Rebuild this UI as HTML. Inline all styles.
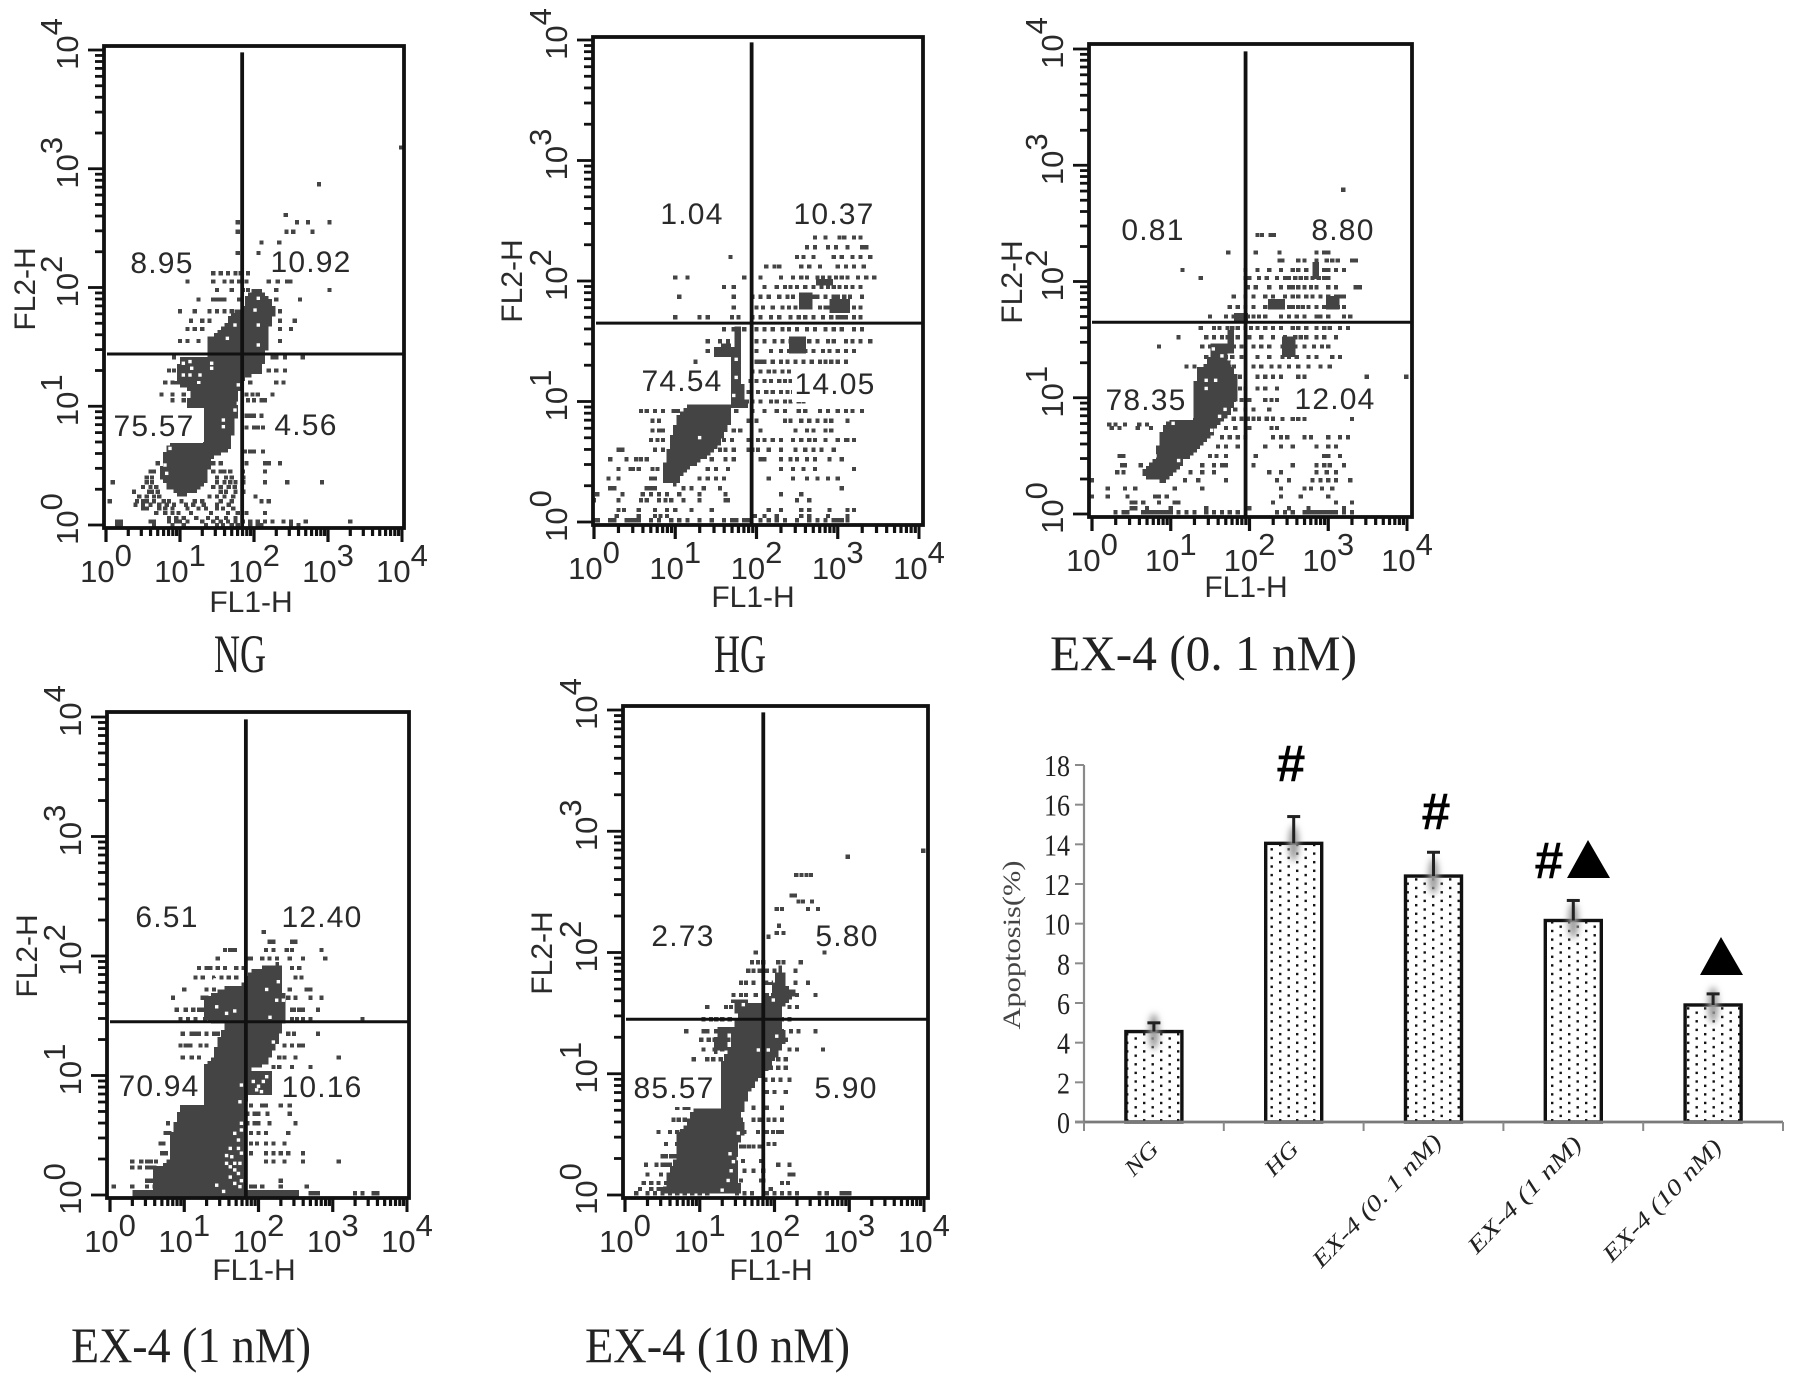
<!DOCTYPE html>
<html lang="en">
<head>
<meta charset="utf-8">
<title>Flow cytometry apoptosis panels</title>
<style>
html,body{margin:0;padding:0;background:#fff;}
svg{display:block;}
.sans{font-family:"Liberation Sans",Arial,sans-serif;fill:#2a2a2a;}
.serif{font-family:"Liberation Serif","Noto Serif CJK SC",serif;fill:#222;}
</style>
</head>
<body>
<svg id="figure" xmlns="http://www.w3.org/2000/svg" width="1795" height="1380" viewBox="0 0 1795 1380">
  <defs>
    <pattern id="dotFill" width="17" height="8.6" patternUnits="userSpaceOnUse">
      <rect x="4" y="1" width="2.4" height="2.4" fill="#111"/>
      <rect x="12.5" y="5.3" width="2.4" height="2.4" fill="#111"/>
    </pattern>
    <filter id="glow" x="-150%" y="-100%" width="400%" height="300%"><feGaussianBlur stdDeviation="3.5"/></filter>
  </defs>
  <rect width="1795" height="1380" fill="#fff"/>
  <g id="panels"></g>
  <g id="bars"></g>
  <text class="serif" x="214" y="672" font-size="54" textLength="52" lengthAdjust="spacingAndGlyphs">NG</text>
  <text class="serif" x="714" y="672" font-size="54" textLength="52" lengthAdjust="spacingAndGlyphs">HG</text>
  <text class="serif" x="1050" y="670" font-size="50" textLength="307" lengthAdjust="spacingAndGlyphs">EX-4 (0. 1 nM)</text>
  <text class="serif" x="71" y="1362" font-size="50" textLength="240" lengthAdjust="spacingAndGlyphs">EX-4 (1 nM)</text>
  <text class="serif" x="585" y="1362" font-size="50" textLength="265" lengthAdjust="spacingAndGlyphs">EX-4 (10 nM)</text>
</svg>
<script>
/* ---------- Flow cytometry data: log10 decades of FL1-H (x) and FL2-H (y) ---------- */
const decadeLabels = ['0','1','2','3','4'];

/* NG */
const ngGate = [1.84, 1.44];
const ngQuadrants = ['8.95','10.92','75.57','4.56'];
const ngBlobs = [
 [[.775,.604],[.865,.688],[1.315,.694],[1.315,.983],[1.09,.996],[1.135,1.137],[1.36,1.249],[1.36,1.558],[1.63,1.698],[1.70,1.783],[1.856,1.839],[1.88,1.937],[2.036,1.993],[2.17,1.937],[2.306,1.825],[2.216,1.67],[2.17,1.446],[2.08,1.277],[1.90,1.249],[1.81,1.165],[1.79,.996],[1.72,.772],[1.68,.632],[1.405,.547],[1.38,.379],[1.27,.295],[1.0,.225],[.82,.323],[.73,.407]],
 [[1.0,1.417],[1.405,1.417],[1.405,1.28],[1.135,1.137],[.93,1.193]]
];
const ngDotY = [3.18,2.87,2.61,2.55,2.47,2.38,2.29,2.12,2.05,1.98,1.9,1.8,1.72,1.65,1.55,1.41,1.3,1.2,1.1,1.05,.92,.82,.62,.52,.45,.4,.36,.32,.28,.24,.2,.17,.14,.1,.06,.03,.0];
const ngDotX = [
 [3.99],[2.88],[2.43],[1.78,2.58,2.73,3.02],[1.78,2.44,2.53,2.79],[2.1,2.34],[1.78,2.06],
 [1.45,1.55,1.65,1.75,1.82,1.92],[1.1,1.45,1.6,1.7,1.8,1.9,2.2,2.32,2.45,2.49],[1.5,1.7,1.85,1.92,2.3,3.02],
 [1.25,1.45,1.5,1.55,1.6,1.8,2.3,2.62],[1.0,1.2,1.4,1.5,1.6,1.7,2.35],[1.15,1.3,1.4,2.35,2.55],[1.1,1.2,1.3,2.35,2.5],
 [1.0,1.1,1.25,2.35],[.92,2.25,2.3,2.42,2.66],[.85,.92,2.2,2.3,2.42],[.8,.9,1.95,2.3,2.4],[.75,.9,1.05,1.9,1.98,2.05,2.25],
 [.9,1.05,1.92,2.0,2.1,2.15],[1.9,1.95,2.0,2.1],[1.9,2.0,2.05,2.12],[1.88,1.95,2.0,2.12],[.7,1.45,1.55,1.9,2.15,2.2,2.35],
 [.6,.65,1.45,1.55,1.6,1.68,1.85,2.15],[.55,.62,1.5,1.62,1.7,1.86],[.09,.55,.62,1.5,1.6,1.68,1.75,1.86,2.15,2.45,2.92],[.5,.6,.68,1.45,1.55,1.66,1.74],[.38,.58,.62,.7,1.55,1.62,1.75,1.86],
 [.45,.55,.65,.72,1.4,1.5,1.6,1.72,2.02],[.05,.42,.5,.55,.65,.78,.85,1.02,1.2,1.3,1.55,1.7,2.1,2.2],[.4,.5,.6,.72,.82,.92,1.08,1.18,1.32,1.5,1.66],
 [.5,.55,.72,.8,.9,1.1,1.25,1.35,1.5,1.58,1.72],[.68,.8,.9,.98,1.15,1.42,1.65,1.78,1.9,2.15],[.85,.95,1.05,1.22,1.38,1.5,1.62,1.75],
 [.15,.2,.6,.65,.85,.95,1.0,1.1,1.3,1.45,1.55,1.65,1.75,1.85,1.95,2.05,2.15,2.25,2.4,2.5,2.7,3.3],[.15,.2,.65,.9,1.05,1.35,1.5,1.58,1.7,1.78,1.95,2.05,2.1,2.5,2.6]
];
const ngHoles = [[1.586,.884],[1.586,.828],[1.428,1.362],[1.428,1.32],[1.045,1.362],[1.135,1.376],[1.158,1.32],[1.045,1.263],[1.135,1.263],[1.27,1.263],[1.788,1.18],[1.788,1.025],[1.743,.968],[.82,.435],[.797,.505],[1.64,1.572],[1.743,1.684],[2.058,1.909],[2.014,1.81],[2.058,1.684],[2.058,1.516],[.865,.645]];

/* HG */
const hgGate = [1.94, 1.65];
const hgQuadrants = ['1.04','10.37','74.54','14.05'];
const hgBlobs = [
 [[.83,.38],[.89,.54],[.95,.72],[1.05,.9],[1.18,.98],[1.67,.98],[1.71,.88],[1.55,.65],[1.38,.54],[1.14,.43],[1.01,.31],[.87,.32]],
 [[1.69,.94],[1.69,1.37],[1.75,1.62],[1.83,1.62],[1.83,1.16],[1.89,.94]],
 [[1.46,1.37],[1.69,1.37],[1.69,1.48],[1.48,1.46]],
 [[2.88,1.84],[3.16,1.84],[3.16,1.73],[2.88,1.73]],
 [[2.39,1.53],[2.59,1.53],[2.59,1.39],[2.39,1.39]],
 [[2.53,1.91],[2.69,1.91],[2.69,1.77],[2.53,1.77]],
 [[2.73,2.03],[2.95,2.03],[2.95,1.95],[2.73,1.95]]
];
const hgDotY = [2.36,2.28,2.2,2.12,2.03,1.95,1.87,1.78,1.7,1.6,1.5,1.42,1.33,1.25,1.17,1.08,1.0,.92,.84,.76,.68,.6,.52,.44,.36,.28,.23,.18,.1,.05,.015];
const hgDotX = [
 [2.72,2.85,3.02,3.08,3.2,3.28],[2.62,2.72,2.88,2.98,3.12,3.3,3.35],[1.68,2.5,2.58,2.7,2.95,3.05,3.18,3.28,3.4],
 [2.12,2.22,2.28,2.55,2.65,2.78,3.0,3.1,3.2,3.32],[1.0,1.15,1.85,2.05,2.3,2.45,2.55,2.62,2.75,2.82,2.9,2.98,3.05,3.12,3.25,3.35,3.45],
 [1.6,1.72,2.1,2.25,2.35,2.42,2.5,2.6,2.7,2.8,2.88,2.95,3.02,3.1,3.18,3.28],[1.05,1.72,1.95,2.05,2.15,2.28,2.38,2.45,2.55,2.62,2.7,2.75,2.85,2.95,3.0,3.08,3.15,3.3],
 [1.72,2.0,2.08,2.2,2.32,2.4,2.48,2.58,2.65,2.78,2.85,2.9,2.98,3.02,3.1,3.2,3.28],[1.0,1.3,1.4,1.7,1.78,1.95,2.05,2.18,2.28,2.42,2.52,2.6,2.7,2.82,2.92,3.0,3.05,3.1,3.2,3.28],
 [1.6,1.72,1.85,2.0,2.1,2.2,2.32,2.4,2.5,2.62,2.72,2.85,2.95,3.05,3.2,3.3],[1.4,1.55,1.65,2.0,2.1,2.22,2.32,2.42,2.5,2.58,2.65,2.75,2.88,2.95,3.1,3.18,3.28,3.4],
 [1.4,1.5,1.6,2.0,2.18,2.3,2.4,2.45,2.52,2.6,2.7,2.82,2.9,3.0,3.1,3.2],[1.25,2.0,2.05,2.1,2.2,2.3,2.38,2.48,2.58,2.68,2.78,2.85,2.92,3.0,3.1],
 [1.95,2.05,2.15,2.22,2.32,2.4,2.5],[1.93,2.0,2.1,2.18,2.28,2.35,2.42,2.5,2.58],[1.9,2.02,2.12,2.2,2.3,2.38,2.45,2.5,2.55],
 [1.88,1.95,2.05,2.18,2.25,2.35,2.42,2.52,2.58],[.65,.75,.85,.58,.98,1.03,1.75,1.95,2.1,2.25,2.35,2.52,2.6,2.78,2.88,3.0,3.1,3.18,3.3],
 [.72,.8,1.9,1.92,2.0,2.35,2.42,2.55,2.65,2.75,2.85,2.92,3.12],[.72,.8,.85,1.72,1.8,2.05,2.48,2.62,2.7,2.85,2.92],
 [.7,.78,.85,1.6,1.7,1.9,2.02,2.1,2.2,2.3,2.45,2.55,2.65,2.72,2.85,3.0,3.1,3.12,3.2],[.3,.35,.75,.85,1.55,1.62,1.72,1.9,1.95,2.02,2.15,2.3,2.48,2.6,2.7,2.8,2.95],
 [.2,.4,.52,.58,.65,1.45,1.62,1.72,2.05,2.1,2.3,2.42,2.5,2.62,2.72,2.9,3.05],[.3,.45,.48,.55,.72,.78,1.4,1.5,1.65,2.3,2.45,2.58,2.72,3.2],
 [.18,.3,.7,.75,1.3,1.4,1.5,1.6,2.15,2.45,2.62,2.75,2.88,3.0],[.2,.25,.65,.7,.75,1.1,1.2,1.35,1.55,3.05],[.04,.35,.6,.7,.8,.9,1.05,1.3,1.62,2.3,2.55],
 [.0,.3,.58,.65,.8,.88,.95,1.1,1.3,1.62,1.65,2.5,2.65],[.3,.37,.55,.75,.9,1.0,1.2,1.45,2.15,2.3,2.55,2.65,2.9,3.12,3.2],[.28,.55,.75,.82,.9,1.98,2.1,2.25,2.55,2.65,2.88,3.12],
 [0,.02,.05,.2,.25,.4,.45,.5,.55,.7,.8,.95,1.05,1.15,1.3,1.45,1.6,1.7,1.75,1.85,1.9,2.05,2.15,2.25,2.35,2.5,2.65,2.75,2.85,2.95,3.0,3.05,3.12]
];
const hgHoles = [[1.75,1.2],[1.75,1.35],[1.72,1.05],[1.3,.7]];

/* EX-4 0.1 nM */
const ex01Gate = [1.95, 1.65];
const ex01Quadrants = ['0.81','8.80','78.35','12.04'];
const ex01Blobs = [
 [[.631,.35],[.8,.493],[.863,.694],[.99,.823],[1.266,.837],[1.287,1.067],[1.35,1.267],[1.477,1.296],[1.498,1.482],[1.689,1.482],[1.752,1.296],[1.837,1.181],[1.837,.981],[1.752,.866],[1.604,.751],[1.393,.579],[1.181,.465],[1.012,.321],[.927,.278],[.715,.292]],
 [[2.25,1.84],[2.44,1.84],[2.44,1.76],[2.25,1.76]],
 [[2.99,1.88],[3.16,1.88],[3.16,1.76],[2.99,1.76]],
 [[2.42,1.54],[2.6,1.54],[2.6,1.35],[2.42,1.35]],
 [[2.78,2.18],[2.9,2.18],[2.9,2.03],[2.78,2.03]],
 [[1.8,1.73],[1.97,1.73],[1.97,1.63],[1.8,1.63]],
 [[1.72,1.58],[1.8,1.58],[1.8,1.39],[1.72,1.39]]
];
const ex01DotY = [2.79,2.4,2.25,2.18,2.1,2.03,1.95,1.87,1.78,1.7,1.6,1.52,1.44,1.35,1.27,1.18,1.08,.98,.9,.82,.77,.74,.66,.58,.5,.42,.36,.29,.22,.15,.1,.05,.015];
const ex01DotX = [
 [3.19],[2.1,2.16,2.27,2.31],[1.73,2.08,2.38,2.85,2.95,3.0],[2.38,2.42,2.62,2.7,2.85,2.98,3.05,3.12,3.3,3.35],[1.15,1.95,2.1,2.25,2.4,2.55,2.62,2.72,2.85,2.95,3.0,3.1,3.2],
 [1.38,1.95,2.0,2.12,2.22,2.35,2.45,2.5,2.58,2.65,2.72,2.8,2.88,2.95,3.0],[1.98,2.08,2.25,2.4,2.5,2.55,2.62,2.7,2.78,2.85,3.0,3.1,3.35,3.4],[1.8,1.95,2.05,2.2,2.3,2.45,2.55,2.62,2.72,2.8,2.9,3,3.1,3.15,3.2],
 [1.75,1.85,1.95,2.05,2.2,2.3,2.35,2.42,2.5,2.55,2.62,2.68,2.75,2.85,2.95,3,3.05,3.12,3.2],[1.5,1.7,1.8,1.88,1.98,2.05,2.12,2.2,2.4,2.5,2.6,2.7,2.85,2.9,3,3.2,3.28],
 [1.38,1.55,1.62,1.72,1.78,1.85,1.95,2.02,2.1,2.2,2.3,2.4,2.55,2.62,2.72,2.85,2.95,3.02,3.15,3.25],[1.1,1.45,1.55,1.65,1.72,1.85,2.0,2.15,2.3,2.45,2.58,2.65,2.72,2.85,2.95,3.1],
 [.85,1.4,1.5,1.65,1.8,1.9,2.05,2.15,2.25,2.42,2.5,2.58,2.7,2.82,2.92,3.0],[1.45,1.7,1.78,1.9,2.1,2.25,2.42,2.5,2.6,2.75,2.85,3.05,3.15],[1.2,1.3,1.8,2.05,2.15,2.28,2.38,2.5,2.62,2.75,2.9,3.02],
 [1.78,1.88,2.1,2.2,2.3,2.4,2.62,2.7,3.49,3.99],[1.8,1.88,1.95,2.1,2.2,2.35],[1.8,1.9,2.0,2.2,2.28,2.35],[1.82,1.95,2.05,2.25],[1.8,1.9,1.98,2.05,2.12,2.22,2.3,2.42,2.55,2.62,2.7,3.3],[.22,.3,.42,.6,.7],
 [.25,.35,.58,.75,1.7,1.82,2.0,2.28,2.35],[1.65,1.75,1.85,1.95,2.3,2.4,2.48,2.7,2.78,3,3.15,3.25],[1.6,1.7,1.85,2.2,2.4,2.55,2.85,3.0,3.1],[.35,.4,1.5,1.58,1.7,2.08,2.95,3.0,3.15],
 [.38,.42,.62,1.4,1.55,1.65,1.7,2.05,2.55,2.85,2.95,3.02,3.2],[.32,.4,1.25,1.4,1.55,2.25,2.4,2.85,2.98,3.1],[.0,1.18,1.35,1.7,2.35,2.5,2.8,2.9,3.0,3.1,3.28],[.2,.42,.55,1.05,1.4,2.4,2.7,2.78,2.92,3.05],
 [0,.2,.45,.8,.85,.95,2.4,2.65,3.0],[.5,.55,.65,.85,1.05,1.1,2.3,3.1,3.3],[.5,.55,.7,1.0,1.45,2.0,2.5,2.75,3.2],
 [.3,.4,.45,.65,.7,.75,.8,.85,.9,.95,1.0,1.1,1.2,1.3,1.45,1.55,1.65,1.75,1.85,2.35,2.45,2.55,2.7,2.75,2.8,2.85,2.9,2.95,3.0,3.05,3.1,3.2,3.3]
];
const ex01Holes = [[1.45,1.15],[1.57,1.15],[1.45,1.08],[1.69,.9],[1.62,.84],[1.52,.72],[1.03,.78],[.8,.5],[1.1,.46],[1.54,1.42],[1.65,1.36],[1.78,1.3]];

/* EX-4 1 nM */
const ex1Gate = [1.83, 1.45];
const ex1Quadrants = ['6.51','12.40','70.94','10.16'];
const ex1Blobs = [
 [[.584,0],[.584,.195],[.83,.32],[.81,.488],[.92,.684],[.988,.762],[1.248,.762],[1.248,1.088],[1.414,1.172],[1.437,1.269],[1.549,1.423],[1.257,1.464],[1.28,1.66],[1.549,1.743],[1.773,1.757],[1.886,1.869],[2.11,1.925],[2.29,1.939],[2.335,1.743],[2.37,1.492],[2.29,1.325],[2.2,1.213],[2.11,1.102],[1.886,1.046],[2.177,1.046],[2.177,.851],[1.863,.851],[1.818,.739],[1.796,.572],[1.82,0]],
 [[.31,-.02],[2.56,-.02],[2.56,.03],[.31,.03]]
];
const ex1DotY = [2.2,2.12,2.05,1.98,1.9,1.82,1.72,1.65,1.55,1.47,1.35,1.25,1.15,1.07,.96,.75,.68,.6,.52,.43,.35,.28,.23,.12,.07,.015];
const ex1DotX = [
 [2.07],[2.15,2.2,2.45,2.5],[1.55,1.62,1.68,2.1,2.2,2.38,2.45,2.85],[1.45,1.85,1.9,2.05,2.15,2.25,2.42,2.6,2.9],[1.2,1.3,1.35,1.45,1.55,1.7,1.8,2.45,2.55],[1.15,1.25,1.4,1.5,1.6,1.7,2.5,2.58],
 [1.0,1.3,1.4,1.6,1.65,2.42,2.65,2.7],[.85,1.25,1.3,2.4,2.5,2.7,2.85],[.9,1.02,1.12,1.2,1.25,2.45,2.48,2.55,2.6,2.8],[.95,1.05,1.15,1.28,1.35,1.42,2.45,2.52,2.6,2.7,3.4],
 [.98,1.1,1.15,1.2,1.3,1.4,1.45,2.4,2.48,2.8],[.95,1.02,1.08,1.22,1.3,2.35,2.45,2.55,2.6],[.98,1.1,1.2,2.28,2.35,2.5,3.08],[.98,1.1,2.2,2.28,2.45,2.7],[1.85,1.95,2.05,2.15],
 [1.9,2.05,2.1,2.3,2.42],[1.85,1.95,2.0,2.12,2.42],[.78,1.85,1.95,2.0,2.15,2.5],[.75,.8,1.9,2.0,2.1,2.4],[.68,.72,1.9,1.98,2.1,2.2,2.35],[.7,.75,1.9,2.1,2.2,2.3,2.4,2.6],
 [.5,.55,.62,.3,.42,2.1,2.2,2.35,2.6,3.08],[.3,.4,.5,.55,.6],[.5,.55,.6,2.3],[.05,.3,.5,.6,1.9,1.95,2.05,2.3,2.65],
 [2.7,2.75,2.8,3.3,3.4,3.55,3.6]
];
const ex1Holes = [[1.68,.516],[1.77,.544],[1.62,.39],[1.73,.39],[1.57,.265],[1.68,.265],[1.64,.32],[1.75,.265],[1.73,.18],[1.68,.097],[1.75,.07],[1.53,.03],[1.62,.236],[1.77,.35],[1.77,.12],[1.68,.21],[1.73,.46],[1.93,.95],[2.065,.95],[2.0,.91],[2.11,.99],[1.975,.88],[2.04,.865],[1.414,1.8],[1.48,1.757],[1.437,1.84],[2.267,1.785],[2.11,1.72],[2.245,1.63],[2.335,1.63],[1.437,1.575],[1.57,1.52],[1.68,1.54],[2.155,1.487],[2.2,1.28],[1.77,.92],[1.75,.78],[1.437,.082],[1.77,.6],[1.62,.15],[1.57,.33]];

/* EX-4 10 nM */
const ex10Gate = [1.85, 1.45];
const ex10Quadrants = ['2.73','5.80','85.57','5.90'];
const ex10Blobs = [
 [[.513,0],[.557,.165],[.669,.289],[.713,.509],[.847,.619],[.87,.687],[1.026,.728],[1.271,.728],[1.271,1.086],[1.405,1.223],[1.427,1.361],[1.516,1.47],[1.405,1.622],[1.783,1.581],[1.94,1.649],[2.03,1.842],[2.096,1.897],[2.163,1.718],[2.297,1.691],[2.274,1.635],[2.096,1.553],[2.096,1.47],[2.14,1.278],[2.03,1.141],[1.94,1.058],[1.829,.976],[1.672,.866],[1.561,.646],[1.605,.509],[1.494,.398],[1.494,.151],[1.583,0]],
 [[1.181,1.169],[1.36,1.196],[1.405,1.388],[1.227,1.375]]
];
const ex10DotY = [2.84,2.79,2.64,2.47,2.42,2.36,2.22,2.16,2.13,2.0,1.92,1.85,1.75,1.65,1.55,1.45,1.35,1.28,1.2,1.12,1.05,.95,.85,.72,.62,.52,.42,.4,.32,.28,.25,.2,.17,.12,.1,.05,.015];
const ex10DotX = [
 [3.99],[2.98],[2.29,2.36,2.43,2.49],[2.23,2.27],[2.32,2.38,2.5],[2.03,2.1,2.45,2.58],[2.06],[2.03,2.12],[1.92],[1.75,2.67],[1.7,1.78,1.85,2.05,2.12,2.35],[1.65,1.72,1.8,1.9,2.0,2.28],
 [1.55,1.62,1.72,1.9,1.95,2.28,2.45],[1.45,1.55,1.62,1.75,1.9,1.98,2.3,2.55],[1.1,1.35,1.42,1.6,1.7,1.78,2.2,2.3],[1.05,1.15,1.22,1.3,1.4,2.1,2.2],[.82,1.05,1.1,1.22,1.32,1.4,2.1,2.22,2.32,2.55],
 [1.02,1.12,1.2,1.28,1.38,2.15],[1.05,1.2,1.3,1.4,2.2,2.3,2.65],[.92,1.1,1.18,1.28,2.05,2.15],[1.85,1.95,2.05,2.15],[1.88,1.98,2.08,2.2],[1.9,2.0,2.15],[.7,.8,.85,1.72,1.9,2.1],[.65,.72,.8,1.55,1.72,1.8,1.92,2.0,2.1],
 [.45,.6,.7,1.6,1.78,1.9,1.98,2.05,2.1],[.55,.7,.72,1.92,2.0],[1.55,1.6,1.66,1.72,1.8],[.5,.55,.62,.68],[1.58,1.82],[.28,.42,.5,.55,.6,2.05,2.2],[1.6,1.72,1.85],[.3,.48,.58,2.2,2.25],[1.55,1.82,1.85],[.25,.35,.45,.55,2.1,2.18],[.2,.35,.45,.5,1.95],
 [.15,.3,.4,.5,.6,.7,.8,.9,1.0,1.1,1.5,1.6,1.7,1.9,2.0,2.1,2.2,2.3,2.6,2.7,2.9,2.95,3.0]
];
const ex10Holes = [[1.784,1.196],[1.917,1.196],[2.03,1.31],[1.984,1.608],[1.784,.88],[1.695,.84],[1.74,.77],[1.605,.63],[1.516,.51],[1.405,.34],[1.516,.3],[1.45,.275],[1.806,1.69],[1.917,1.703],[1.94,1.77],[1.583,1.57],[1.42,.2],[1.38,.12],[1.3,.04]];

/* ---------- Bar chart data ---------- */
const barCategories = ['NG','HG','EX-4 (0. 1 nM)','EX-4 (1 nM)','EX-4 (10 nM)'];
const barValues = [4.56, 14.05, 12.40, 10.16, 5.90];
const barErrorTops = [5.0, 15.4, 13.6, 11.17, 6.46];
const barTicks = [0,2,4,6,8,10,12,14,16,18];
const barTickLabels = ['0','2','4','6','8','10','12','14','16','18'];
const barAxisTitle = 'Apoptosis(%)';

/* ---------- Drawing ---------- */
const NS = 'http://www.w3.org/2000/svg';
function make(tag, attrs, parent){
  const el = document.createElementNS(NS, tag);
  for (const k in attrs) el.setAttribute(k, attrs[k]);
  parent.appendChild(el);
  return el;
}
function insidePoly(px, py, poly){
  let hit = false;
  for (let i = 0, j = poly.length - 1; i < poly.length; j = i++) {
    const a = poly[i], b = poly[j];
    if ((a[1] > py) !== (b[1] > py) && px < (b[0] - a[0]) * (py - a[1]) / (b[1] - a[1]) + a[0]) hit = !hit;
  }
  return hit;
}
const CELL = 3.4;
function staircasePath(pixPoly){
  const xs = pixPoly.map(c => c[0]), ys = pixPoly.map(c => c[1]);
  const x0 = Math.floor(Math.min.apply(null, xs) / CELL) * CELL, x1 = Math.max.apply(null, xs);
  const y0 = Math.floor(Math.min.apply(null, ys) / CELL) * CELL, y1 = Math.max.apply(null, ys);
  let d = '';
  for (let y = y0; y < y1; y += CELL) {
    let start = null;
    for (let x = x0; x <= x1 + CELL; x += CELL) {
      const on = insidePoly(x + CELL / 2, y + CELL / 2, pixPoly);
      if (on && start === null) start = x;
      if (!on && start !== null) {
        d += 'M' + start.toFixed(1) + ' ' + y.toFixed(1) + 'H' + x.toFixed(1) + 'V' + (y + CELL + 0.1).toFixed(1) + 'H' + start.toFixed(1) + 'Z';
        start = null;
      }
    }
  }
  return d;
}
const panelLayouts = [
 {name:'ng', L:104,R:404,T:46,B:528, x0:106,x4:402,y0:525,y4:50, gate:ngGate, q:ngQuadrants, blobs:ngBlobs, dy:ngDotY, dx:ngDotX, holes:ngHoles,
  qpos:[[162,262],[311,261],[154,425],[306,424]], boxes:[[113,409,90,34]], fl1:[251,602], fl2:[25,289]},
 {name:'hg', L:593,R:923,T:37,B:525, x0:594,x4:919,y0:522,y4:40, gate:hgGate, q:hgQuadrants, blobs:hgBlobs, dy:hgDotY, dx:hgDotX, holes:hgHoles,
  qpos:[[692,213],[834,213],[682,380],[835,383]], boxes:[[643,365,87,38],[792,368,86,34]], fl1:[753,597], fl2:[512,281]},
 {name:'ex4-0-1', L:1089,R:1412,T:44,B:517, x0:1092,x4:1407,y0:514,y4:49, gate:ex01Gate, q:ex01Quadrants, blobs:ex01Blobs, dy:ex01DotY, dx:ex01DotX, holes:ex01Holes,
  qpos:[[1153,229],[1343,229],[1146,399],[1335,398]], boxes:[[1107,383,86,37],[1280,383,93,34]], fl1:[1246,587], fl2:[1012,282]},
 {name:'ex4-1', L:107,R:409,T:712,B:1198, x0:110,x4:407,y0:1195,y4:717, gate:ex1Gate, q:ex1Quadrants, blobs:ex1Blobs, dy:ex1DotY, dx:ex1DotX, holes:ex1Holes,
  qpos:[[167,916],[322,916],[159,1085],[322,1086]], boxes:[[118,1065,85,40],[272,1069,91,31]], fl1:[254,1270], fl2:[27,956]},
 {name:'ex4-10', L:623,R:928,T:706,B:1198, x0:625,x4:924,y0:1195,y4:710, gate:ex10Gate, q:ex10Quadrants, blobs:ex10Blobs, dy:ex10DotY, dx:ex10DotX, holes:ex10Holes,
  qpos:[[683,935],[847,935],[674,1087],[846,1087]], boxes:[[633,1065,88,42]], fl1:[771,1270], fl2:[542,953]}
];
const panelsRoot = document.getElementById('panels');
const DARK = '#444';
const DOT = 4.2;
panelLayouts.forEach(p => {
  const g = make('g', {}, panelsRoot);
  
  
  const sx = d => p.x0 + (p.x4 - p.x0) * d / 4;
  const sy = d => p.y0 + (p.y4 - p.y0) * d / 4;

  p.blobs.forEach(poly => {
    const el = make('path', {d: staircasePath(poly.map(c => [sx(c[0]), sy(c[1])])), fill: DARK, 'shape-rendering': 'crispEdges'}, g);
    
    
  });
  p.dy.forEach((yVal, i) => {
    p.dx[i].forEach(xVal => {
      const el = make('rect', {x: sx(xVal) - DOT / 2, y: sy(yVal) - DOT / 2, width: DOT, height: DOT, fill: DARK, 'shape-rendering': 'crispEdges'}, g);
      
      
    });
  });
  p.holes.forEach(c => {
    const el = make('rect', {x: sx(c[0]) - 1.7, y: sy(c[1]) - 1.7, width: 3.4, height: 3.4, fill: '#fff'}, g);
    
    
  });
  p.boxes.forEach(b => {
    const el = make('rect', {x: b[0], y: b[1], width: b[2], height: b[3], fill: '#fff'}, g);
    
    
  });

  const vGate = make('line', {x1: sx(p.gate[0]), x2: sx(p.gate[0]), y1: sy(3.98), y2: p.B, stroke: '#111', 'stroke-width': 3.8}, g);
  
  
  const hGate = make('line', {x1: p.L + 3, x2: p.R, y1: sy(p.gate[1]), y2: sy(p.gate[1]), stroke: '#111', 'stroke-width': 3}, g);
  
  

  const frame = make('rect', {x: p.L, y: p.T, width: p.R - p.L, height: p.B - p.T, fill: 'none', stroke: '#111', 'stroke-width': 3.8}, g);
  
  

  for (let d = 0; d < 4; d++) {
    for (let m = 1; m <= 9; m++) {
      const pos = d + Math.log10(m);
      const len = m === 1 ? 14 : 8;
      const tx = make('line', {x1: sx(pos), x2: sx(pos), y1: p.B, y2: p.B + len, stroke: '#111', 'stroke-width': 3.2}, g);
      
      
      const ty = make('line', {x1: p.L, x2: p.L - (m === 1 ? 16 : 9), y1: sy(pos), y2: sy(pos), stroke: '#111', 'stroke-width': 2.8}, g);
      
      
    }
  }
  const tx4 = make('line', {x1: sx(4), x2: sx(4), y1: p.B, y2: p.B + 14, stroke: '#111', 'stroke-width': 3}, g);
  
  
  const ty4 = make('line', {x1: p.L, x2: p.L - 16, y1: sy(4), y2: sy(4), stroke: '#111', 'stroke-width': 2.8}, g);
  
  

  decadeLabels.forEach((lab, i) => {
    const xt = make('text', {class: 'sans', x: sx(i), y: p.B + 54, 'font-size': 31, 'text-anchor': 'middle'}, g);
    
    
    const a = make('tspan', {}, xt); a.textContent = '10';
    const b = make('tspan', {dy: -16, 'font-size': 31}, xt); b.textContent = lab;

    const yx = p.L - 26, yy = sy(i) - 6;
    const yt = make('text', {class: 'sans', x: yx, y: yy, 'font-size': 31, 'text-anchor': 'middle', transform: 'rotate(-90 ' + yx + ' ' + yy + ')'}, g);
    
    
    const c = make('tspan', {}, yt); c.textContent = '10';
    const e = make('tspan', {dy: -16, 'font-size': 31}, yt); e.textContent = lab;
  });

  p.q.forEach((lab, i) => {
    const t = make('text', {class: 'sans', x: p.qpos[i][0], y: p.qpos[i][1] + 11, 'font-size': 30, 'letter-spacing': 1.2, 'text-anchor': 'middle'}, g);
    
    
    t.textContent = lab;
  });

  const fl1 = make('text', {class: 'sans', x: p.fl1[0], y: p.fl1[1] + 10, 'font-size': 30, 'text-anchor': 'middle'}, g);
  
  
  fl1.textContent = 'FL1-H';
  const fx = p.fl2[0] + 10, fy = p.fl2[1];
  const fl2 = make('text', {class: 'sans', x: fx, y: fy, 'font-size': 30, 'text-anchor': 'middle', transform: 'rotate(-90 ' + fx + ' ' + fy + ')'}, g);
  
  
  fl2.textContent = 'FL2-H';
});

/* Bar chart */
const barsRoot = document.getElementById('bars');
const BX0 = 1084, BX1 = 1783, BY0 = 1122, BY18 = 765;
const valueY = v => BY0 + (BY18 - BY0) * v / 18;
const bandW = (BX1 - BX0) / barCategories.length;
const bandX = i => BX0 + bandW * (i + 0.5);

barValues.forEach((v, i) => {
  const cx = bandX(i), w = 56, top = valueY(v);
  const bar = make('rect', {x: cx - w / 2, y: top, width: w, height: BY0 - top, fill: 'url(#dotFill)', stroke: '#111', 'stroke-width': 3.4}, barsRoot);
  
  
  const etop = valueY(barErrorTops[i]);
  const glow = make('ellipse', {cx: cx, cy: top, rx: 5, ry: 18, fill: '#999', filter: 'url(#glow)'}, barsRoot);
  
  
  const stem = make('line', {x1: cx, x2: cx, y1: etop, y2: top, stroke: '#222', 'stroke-width': 3}, barsRoot);
  
  
  const cap = make('line', {x1: cx - 6.5, x2: cx + 6.5, y1: etop, y2: etop, stroke: '#222', 'stroke-width': 3}, barsRoot);
  
  
});

const yAxis = make('line', {x1: BX0, x2: BX0, y1: BY18, y2: BY0, stroke: '#8a8a8a', 'stroke-width': 2.2}, barsRoot);


const xAxis = make('line', {x1: BX0 - 9, x2: BX1, y1: BY0, y2: BY0, stroke: '#7a7a7a', 'stroke-width': 2.8}, barsRoot);



barTicks.forEach((t, i) => {
  const y = valueY(t);
  const tk = make('line', {x1: BX0 - 9, x2: BX0, y1: y, y2: y, stroke: '#8a8a8a', 'stroke-width': 2}, barsRoot);
  
  
  const lab = barTickLabels[i];
  const tx = make('text', {class: 'serif', x: BX0 - 14, y: y + 11, 'font-size': 31, 'text-anchor': 'end', textLength: 13 * lab.length, lengthAdjust: 'spacingAndGlyphs'}, barsRoot);
  
  
  tx.textContent = lab;
});
for (let i = 0; i <= barCategories.length; i++) {
  const x = BX0 + bandW * i;
  const tk = make('line', {x1: x, x2: x, y1: BY0, y2: BY0 + 9, stroke: '#8a8a8a', 'stroke-width': 2}, barsRoot);
  
  
}
const titleT = make('text', {class: 'serif', x: 1020, y: 945, 'font-size': 25, 'text-anchor': 'middle', textLength: 169, lengthAdjust: 'spacingAndGlyphs', transform: 'rotate(-90 1020 945)', style: 'fill:#444'}, barsRoot);


titleT.textContent = barAxisTitle;

const catEnds = [[1160,1150],[1300,1150],[1443,1143],[1583,1145],[1723,1148]];
const catLens = [38,38,175,153,160];
barCategories.forEach((c, i) => {
  const ex = catEnds[i][0], ey = catEnds[i][1];
  const t = make('text', {class: 'serif', x: ex, y: ey, 'font-size': 23, 'font-style': 'italic', 'text-anchor': 'end', textLength: catLens[i], lengthAdjust: 'spacingAndGlyphs', transform: 'rotate(-46 ' + ex + ' ' + ey + ')'}, barsRoot);
  
  
  t.textContent = c;
});

const hashCenters = [[1291,763],[1436,811],[1549,860]];
hashCenters.forEach(h => {
  const t = make('text', {class: 'sans', x: h[0], y: h[1] + 18, 'font-size': 52, 'font-weight': 'bold', 'text-anchor': 'middle', style: 'fill:#000'}, barsRoot);
  
  
  t.textContent = '#';
});
const triangles = ['1567,878 1588,840 1610,878', '1700,975 1721,937 1743,975'];
triangles.forEach(pts => {
  const t = make('polygon', {points: pts, fill: '#000'}, barsRoot);
  
  
});
</script>
</body>
</html>
